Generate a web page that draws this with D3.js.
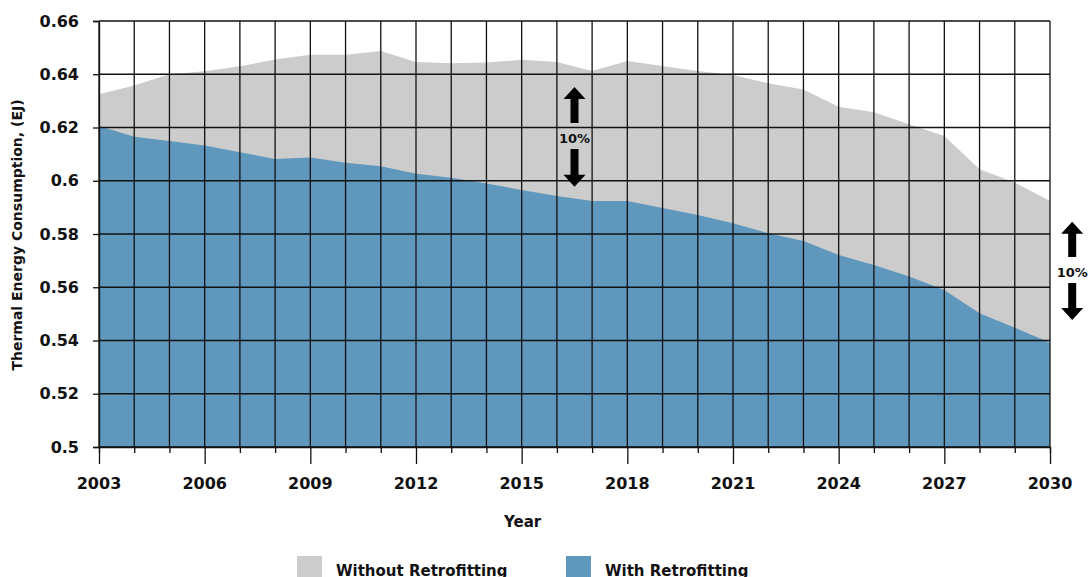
<!DOCTYPE html>
<meta charset="utf-8">
<style>
body { margin: 0; background: #fff; }
text { font-family: "DejaVu Sans", sans-serif; font-weight: bold; fill: #111; }
.grid line { stroke: #111; stroke-width: 1.3; }
</style>
<svg width="1089" height="577"></svg>
<script src="https://cdn.jsdelivr.net/npm/d3@7"></script>
<script>

// data
var years = d3.range(2003, 2031);
var without = [0.6325, 0.6358, 0.6400, 0.6411, 0.6430, 0.6455, 0.6473, 0.6473, 0.6487, 0.6446,
               0.6441, 0.6444, 0.6454, 0.6446, 0.6412, 0.6450, 0.6431, 0.6412, 0.6397, 0.6366,
               0.6343, 0.6278, 0.6257, 0.6212, 0.6168, 0.6043, 0.5993, 0.5924];
var withRetro = [0.6206, 0.6165, 0.6149, 0.6132, 0.6107, 0.6082, 0.6087, 0.6068, 0.6054, 0.6026,
                 0.6011, 0.5990, 0.5965, 0.5943, 0.5924, 0.5924, 0.5898, 0.5871, 0.5840, 0.5803,
                 0.5774, 0.5721, 0.5684, 0.5640, 0.5590, 0.5502, 0.5448, 0.5392];
var yTicks = [0.5, 0.52, 0.54, 0.56, 0.58, 0.6, 0.62, 0.64, 0.66];
var xLabelYears = [2003, 2006, 2009, 2012, 2015, 2018, 2021, 2024, 2027, 2030];
var seriesNames = ["Without Retrofitting", "With Retrofitting"];
var seriesColors = ["#cbcccb", "#5f97bd"];
// the two "10%" callouts: [year, top value, bottom value]
var callouts = [[2016.5, 0.6352, 0.5977], [2030.63, 0.5846, 0.5477]];

var svg = d3.select("svg"),
    margin = {top: 21, left: 99, right: 39, bottom: 130},
    width = 1089 - margin.left - margin.right,
    height = 577 - margin.top - margin.bottom;

var g = svg.append("g").attr("transform", "translate(" + margin.left + "," + margin.top + ")");

var x = d3.scaleLinear().domain([2003, 2030]).range([0, width]);
var y = d3.scaleLinear().domain([0.5, 0.66]).range([height, 0]);

var area = function(vals) {
  return d3.area()
    .x(function(d, i) { return x(years[i]); })
    .y0(y(0.5))
    .y1(function(d) { return y(d); })(vals);
};

g.append("path").attr("d", area(without)).attr("fill", seriesColors[0]);
g.append("path").attr("d", area(withRetro)).attr("fill", seriesColors[1]);

// grid
var grid = g.append("g").attr("class", "grid");
grid.selectAll(".v").data(years).enter().append("line")
    .attr("x1", function(d) { return x(d); }).attr("x2", function(d) { return x(d); })
    .attr("y1", 0).attr("y2", height);
grid.selectAll(".h").data(yTicks).enter().append("line")
    .attr("x1", 0).attr("x2", width)
    .attr("y1", function(d) { return y(d); }).attr("y2", function(d) { return y(d); });

// y axis
var yAxis = g.append("g").call(d3.axisLeft(y).tickValues(yTicks).tickSize(6).tickPadding(14)
    .tickFormat(function(d) { return d3.format("")(+d.toFixed(2)); }));
yAxis.select(".domain").attr("stroke", "#111").attr("stroke-width", 1.3);
yAxis.selectAll(".tick line").attr("stroke", "#111").attr("stroke-width", 1.3);
yAxis.selectAll("text").attr("font-size", 16).attr("font-family", null).attr("fill", null);

// x axis: minor ticks each year, long ticks every 3 years
var xAxis = g.append("g").attr("transform", "translate(0," + height + ")")
    .call(d3.axisBottom(x).tickValues(years).tickSizeOuter(0)
      .tickSize(6).tickFormat(""));
xAxis.selectAll(".tick line").attr("stroke", "#111").attr("stroke-width", 1.3)
    .attr("y2", function(d) { return xLabelYears.indexOf(d) >= 0 ? 17 : 6; });
xAxis.select(".domain").attr("stroke", "#111").attr("stroke-width", 1.3);

g.selectAll(".xlab").data(xLabelYears).enter().append("text")
    .attr("x", function(d) { return x(d); })
    .attr("y", height + 42)
    .attr("text-anchor", "middle")
    .attr("font-size", 16)
    .text(function(d) { return d; });

// axis titles
svg.append("text")
    .attr("x", margin.left + x(2015) + 1).attr("y", 527)
    .attr("text-anchor", "middle").attr("font-size", 15)
    .text("Year");
svg.append("text")
    .attr("transform", "translate(22," + 235 + ") rotate(-90)")
    .attr("text-anchor", "middle").attr("font-size", 14)
    .text("Thermal Energy Consumption, (EJ)");

// 10% callouts
callouts.forEach(function(c) {
  var cx = x(c[0]), top = y(c[1]), bot = y(c[2]);
  var mid = (top + bot) / 2;
  var a = g.append("g");
  a.append("path").attr("fill", "#000")
    .attr("d", "M" + cx + "," + top + " L" + (cx + 11) + "," + (top + 12) + " L" + (cx + 4) + "," + (top + 12) +
               " L" + (cx + 4) + "," + (mid - 14) + " L" + (cx - 4) + "," + (mid - 14) +
               " L" + (cx - 4) + "," + (top + 12) + " L" + (cx - 11) + "," + (top + 12) + "Z");
  a.append("path").attr("fill", "#000")
    .attr("d", "M" + cx + "," + bot + " L" + (cx + 11) + "," + (bot - 12) + " L" + (cx + 4) + "," + (bot - 12) +
               " L" + (cx + 4) + "," + (mid + 12) + " L" + (cx - 4) + "," + (mid + 12) +
               " L" + (cx - 4) + "," + (bot - 12) + " L" + (cx - 11) + "," + (bot - 12) + "Z");
  a.append("text").attr("x", cx).attr("y", mid + 6)
    .attr("text-anchor", "middle").attr("font-size", 13).text("10%");
});

// legend
var legend = svg.selectAll(".legend").data(seriesNames).enter().append("g")
    .attr("transform", function(d, i) { return "translate(" + (297 + i * 269) + ",556)"; });
legend.append("rect").attr("width", 25).attr("height", 25)
    .attr("fill", function(d, i) { return seriesColors[i]; });
legend.append("text").attr("x", 39).attr("y", 20).attr("font-size", 15)
    .text(function(d) { return d; });

</script>
